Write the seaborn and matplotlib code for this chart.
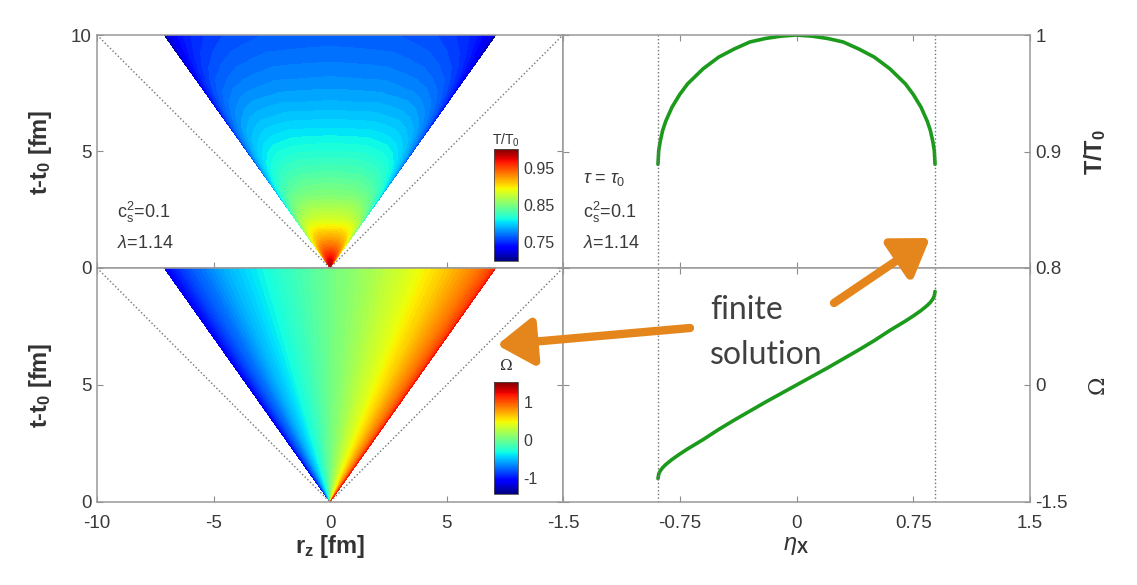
import numpy as np
import matplotlib
matplotlib.use("Agg")
import matplotlib.pyplot as plt
import seaborn as sns
import pandas as pd
from matplotlib.colors import Normalize
from matplotlib.cm import ScalarMappable

# rapidity values where the curves were read (right panels)
eta = [-0.89, -0.885, -0.875, -0.86, -0.84, -0.8, -0.75, -0.7, -0.6, -0.5, -0.4, -0.3, -0.2, -0.1, 0.0,
       0.1, 0.2, 0.3, 0.4, 0.5, 0.6, 0.7, 0.75, 0.8, 0.84, 0.86, 0.875, 0.885, 0.89]
# T/T0 at tau = tau0
temp_profile = [0.889, 0.901, 0.909, 0.918, 0.926, 0.938, 0.949, 0.958, 0.971, 0.981, 0.988, 0.994, 0.997, 0.999, 1.0,
                0.999, 0.997, 0.994, 0.988, 0.981, 0.971, 0.958, 0.949, 0.938, 0.926, 0.918, 0.909, 0.901, 0.889]
# Omega at tau = tau0
omega_profile = [-1.2, -1.14, -1.10, -1.06, -1.02, -0.955, -0.885, -0.82, -0.70, -0.57, -0.45, -0.335, -0.22, -0.11, 0.0,
                 0.11, 0.22, 0.335, 0.45, 0.57, 0.70, 0.82, 0.885, 0.955, 1.02, 1.06, 1.10, 1.14, 1.2]

tau = [0, 0.5, 1, 2, 3, 4, 5, 6, 7, 8, 9, 10, 11, 12]
temp_center = [1.0, 0.965, 0.935, 0.885, 0.855, 0.835, 0.818, 0.803, 0.79, 0.78, 0.772, 0.765, 0.76, 0.755]

eta_edge = 0.89
green = '#1c9a1c'
orange = '#e5861c'
W, H = 1137, 585

sns.set_style('white')
plt.rcParams['font.family'] = ['Liberation Sans', 'DejaVu Sans']
plt.rcParams['mathtext.fontset'] = 'custom'
plt.rcParams['mathtext.rm'] = 'Liberation Sans'
plt.rcParams['mathtext.it'] = 'Liberation Sans:italic'
plt.rcParams['mathtext.bf'] = 'Liberation Sans:bold'


def box(x0, y0, x1, y1):
    # image pixel box -> figure fraction rect
    return [x0 / W, 1 - y1 / H, (x1 - x0) / W, (y1 - y0) / H]


fig = plt.figure(figsize=(W / 100, H / 100), dpi=100)
ax_t = fig.add_axes(box(97, 35, 563, 268))
ax_o = fig.add_axes(box(97, 268, 563, 502))
ax_tr = fig.add_axes(box(563, 35, 1030, 268))
ax_or = fig.add_axes(box(563, 268, 1030, 502))

# grid in (tau, eta) mapped to (r_z, t)
E = np.array(eta)
TAU = np.array(tau)
R = np.outer(TAU, np.sinh(E))
T = np.outer(TAU, np.cosh(E))
Z_temp = np.outer(temp_center, temp_profile)
Z_omega = np.tile(omega_profile, (len(tau), 1))

norm_t = Normalize(0.70, 1.0)
norm_o = Normalize(-1.43, 1.53)
ax_t.contourf(R, T, Z_temp, levels=np.linspace(0.66, 1.0, 70), cmap='jet', norm=norm_t)
ax_o.contourf(R, T, Z_omega, levels=np.linspace(-1.43, 1.53, 90), cmap='jet', norm=norm_o)

for ax in (ax_t, ax_o):
    ax.plot([-10, 0, 10], [10, 0, 10], ls=':', color='0.45', lw=1)
    ax.set_xlim(-10, 10)
    ax.set_ylim(0, 10)
    ax.set_xticks([-10, -5, 0, 5, 10])
    ax.set_yticks([0, 5, 10])
ax_t.set_xticklabels([])
ax_o.set_xticklabels(['-10', '-5', '0', '5', ''])
ax_o.set_yticklabels(['0', '5', ''])

# right panels
df = pd.DataFrame({'eta': eta, 'T': temp_profile, 'Omega': omega_profile})
sns.lineplot(data=df, x='eta', y='T', ax=ax_tr, color=green, lw=2.6, estimator=None, sort=False)
sns.lineplot(data=df, x='eta', y='Omega', ax=ax_or, color=green, lw=2.6, estimator=None, sort=False)
for ax in (ax_tr, ax_or):
    for x in (-eta_edge, eta_edge):
        ax.axvline(x, ls=':', color='0.45', lw=1)
    ax.set_xlim(-1.5, 1.5)
    ax.set_xticks([-1.5, -0.75, 0, 0.75, 1.5])
    ax.set_xlabel('')
    ax.set_ylabel('')
    ax.yaxis.tick_right()
ax_tr.set_ylim(0.8, 1.0)
ax_tr.set_yticks([0.8, 0.9, 1.0])
ax_tr.set_yticklabels(['0.8', '0.9', '1'])
ax_tr.set_xticklabels([])
ax_or.set_ylim(-1.5, 1.5)
ax_or.set_yticks([-1.5, 0, 1.5])
ax_or.set_yticklabels(['-1.5', '0', ''])
ax_or.set_xticklabels(['-1.5', '-0.75', '0', '0.75', '1.5'])

for ax in (ax_t, ax_o, ax_tr, ax_or):
    ax.tick_params(direction='in', length=4, width=0.8, top=True, bottom=True, left=True, right=True,
                   color='0.55', labelcolor='#3a3a3a', labelsize=13.5, pad=4)
    ax.tick_params(axis='x', pad=9)
    for s in ax.spines.values():
        s.set_color('0.6')
        s.set_linewidth(1.1)
for ax in (ax_tr, ax_or):
    ax.tick_params(labelleft=False, labelright=True)

# colorbars
cax_t = fig.add_axes(box(494, 149, 518, 261))
cb = fig.colorbar(ScalarMappable(norm_t, 'jet'), cax=cax_t, ticks=[0.75, 0.85, 0.95])
cb.ax.set_yticklabels(['0.75', '0.85', '0.95'])
cax_o = fig.add_axes(box(494, 382, 518, 494))
cb2 = fig.colorbar(ScalarMappable(norm_o, 'jet'), cax=cax_o, ticks=[-1, 0, 1])
cb2.ax.set_yticklabels(['-1', '0', '1'])
for c in (cb, cb2):
    c.ax.tick_params(length=0, labelsize=11.5, labelcolor='#3a3a3a', pad=4)
    c.outline.set_edgecolor('0.3')
    c.outline.set_linewidth(0.6)
fig.text(506 / W, 1 - 140 / H, 'T/T$_0$', ha='center', va='center', fontsize=10, color='#333333')
fig.text(506 / W, 1 - 366 / H, 'Ω', ha='center', va='center', fontsize=11, color='#333333',
         family=['DejaVu Serif'])

# parameter notes
for x0 in (117, 583):
    fig.text(x0 / W, 1 - 212 / H, 'c$_\\mathrm{s}^2$=0.1', va='center', fontsize=13, color='#3a3a3a')
    fig.text(x0 / W, 1 - 243 / H, '$\\lambda$=1.14', va='center', fontsize=13, color='#3a3a3a')
fig.text(583 / W, 1 - 180 / H, '$\\tau$ = $\\tau_0$', va='center', fontsize=13, color='#3a3a3a')

# axis labels
lab = dict(fontsize=17, fontweight='bold', color='#333333', ha='center', va='center')
fig.text(41 / W, 1 - 152 / H, 't-t$_\\mathbf{0}$ [fm]', rotation=90, **lab)
fig.text(41 / W, 1 - 385 / H, 't-t$_\\mathbf{0}$ [fm]', rotation=90, **lab)
fig.text(330 / W, 1 - 546 / H, 'r$_\\mathbf{z}$ [fm]', **lab)
fig.text(1095 / W, 1 - 152 / H, 'T/T$_\\mathbf{0}$', rotation=90, **lab)
fig.text(796 / W, 1 - 546 / H, '$\\eta_\\mathbf{X}$', fontsize=17, color='#333333', ha='center', va='center')
fig.text(1098 / W, 1 - 385 / H, 'Ω', rotation=90, fontsize=16, color='#333333', ha='center', va='center',
         family=['DejaVu Serif'])

# "finite solution" call-out
fig.text(710 / W, 1 - 319 / H, 'finite', fontsize=23, color='#404040', family=['Lato', 'DejaVu Sans'],
         va='baseline')
fig.text(710 / W, 1 - 364 / H, 'solution', fontsize=23, color='#404040', family=['Lato', 'DejaVu Sans'],
         va='baseline')
arrow = dict(arrowstyle='-|>,head_length=0.9,head_width=0.6', color=orange, lw=6, mutation_scale=24,
             shrinkA=0, shrinkB=0)
ax_or.annotate('', xy=(497, H - 345), xycoords='figure pixels', xytext=(690, H - 328),
               textcoords='figure pixels', arrowprops=arrow, annotation_clip=False)
ax_or.annotate('', xy=(930, H - 238), xycoords='figure pixels', xytext=(834, H - 303),
               textcoords='figure pixels', arrowprops=arrow, annotation_clip=False)

fig.savefig('out.png', dpi=100)
